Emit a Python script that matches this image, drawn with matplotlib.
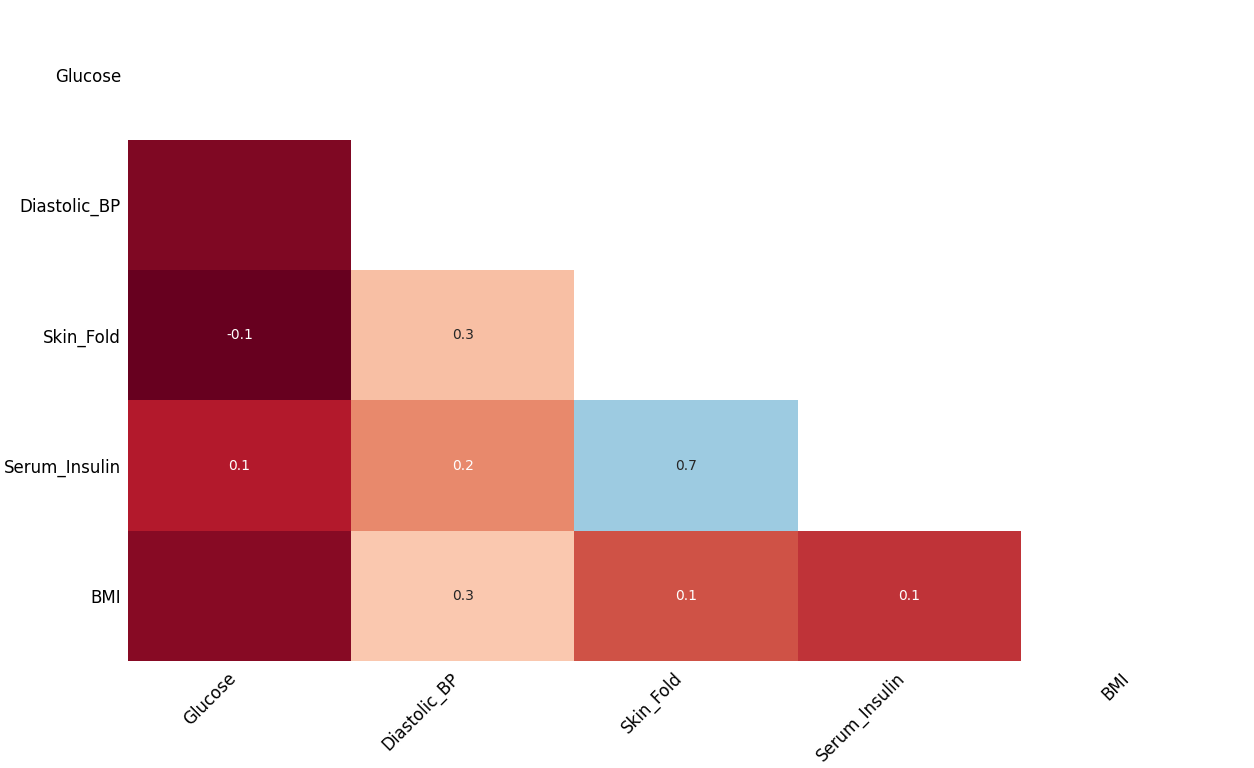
import numpy as np
import matplotlib
matplotlib.use("Agg")
import matplotlib.pyplot as plt
import seaborn as sns

columns = ["Glucose", "Diastolic_BP", "Skin_Fold", "Serum_Insulin", "BMI"]

# lower triangle of nullity correlation, row by row
row_diastolic = [-0.022]
row_skin = [-0.09, 0.33]
row_insulin = [0.055, 0.23, 0.695]
row_bmi = [-0.012, 0.345, 0.14, 0.095]

n = len(columns)
corr = np.eye(n)
for i, row in enumerate([row_diastolic, row_skin, row_insulin, row_bmi], start=1):
    for j, v in enumerate(row):
        corr[i, j] = v
        corr[j, i] = v

mask = np.triu(np.ones_like(corr, dtype=bool))


def label(v):
    if -0.05 < v < 0.05:
        return ""
    return f"{v:.1f}"


annot = np.array([[label(v) for v in r] for r in corr])

fig = plt.figure(figsize=(12.54, 7.68), dpi=100)
ax = fig.add_axes([0.102, 0.1393, 0.890, 0.8483])
sns.heatmap(corr, mask=mask, cmap="RdBu", vmin=-0.06, vmax=1.05, cbar=False,
            annot=annot, fmt="", annot_kws={"size": 10}, ax=ax)

ax.set_xticklabels(columns, rotation=45, ha="right", fontsize=12)
ax.set_yticklabels(columns, rotation=0, fontsize=12, va="center_baseline")
ax.tick_params(axis="both", length=0)
ax.tick_params(axis="x", pad=6)
ax.tick_params(axis="y", pad=5)

fig.savefig("out.png", dpi=100)
